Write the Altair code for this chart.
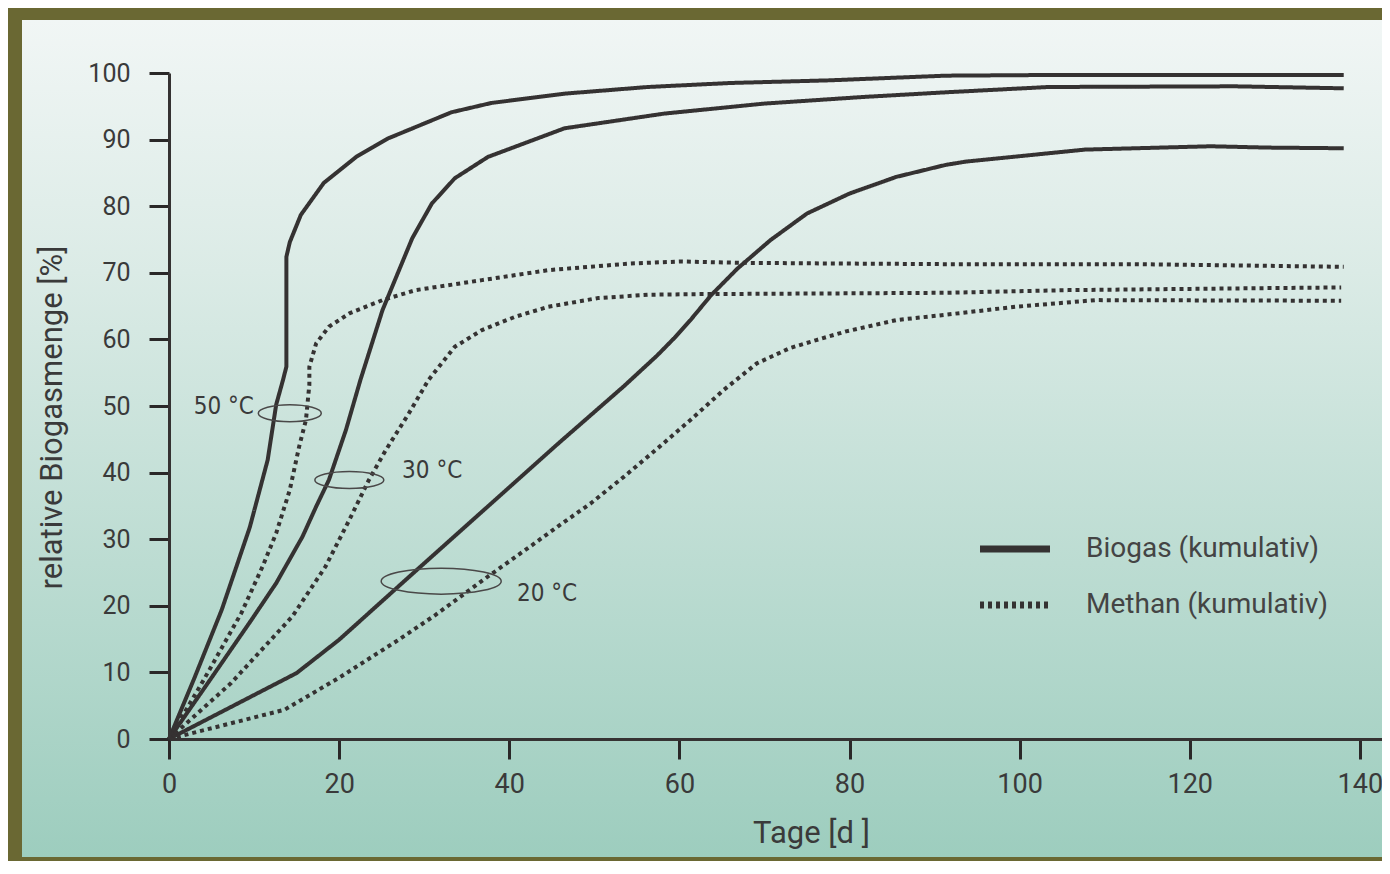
import altair as alt
import pandas as pd

# ---------------- data ----------------
b50_x = [0, 3.0, 6.2, 9.5, 11.6, 12.6, 13.4, 13.8, 13.8, 14.2, 15.5, 18.2, 22.0, 25.8, 33.2, 37.9, 46.5, 56.3, 66.0, 77.7, 91.3, 103.4, 138.1]
b50_y = [0, 9.2, 19.4, 31.8, 41.9, 50.2, 53.9, 55.9, 72.4, 74.6, 78.7, 83.5, 87.4, 90.2, 94.1, 95.5, 96.9, 97.9, 98.5, 98.9, 99.6, 99.7, 99.7]

b30_x = [0, 5.0, 9.7, 12.6, 15.7, 17.3, 18.8, 20.8, 22.5, 25.1, 28.6, 30.9, 33.6, 37.5, 46.5, 58.2, 69.9, 81.6, 91.3, 103.4, 125.3, 138.1]
b30_y = [0, 9.2, 17.9, 23.4, 30.4, 34.9, 38.9, 46.4, 53.9, 64.4, 75.2, 80.4, 84.2, 87.4, 91.7, 93.9, 95.4, 96.4, 97.1, 97.9, 98.0, 97.7]

b20_x = [0, 15.0, 20.0, 27.4, 45.7, 49.2, 53.5, 57.4, 59.4, 61.3, 63.7, 66.8, 70.7, 75.0, 80.0, 85.5, 91.3, 93.7, 107.7, 122.5, 129.1, 138.1]
b20_y = [0, 9.9, 14.9, 23.4, 44.3, 48.2, 53.0, 57.6, 60.2, 62.9, 66.6, 70.6, 74.9, 78.9, 81.9, 84.4, 86.2, 86.7, 88.5, 89.0, 88.8, 88.7]

m50_x = [0, 4.0, 8.5, 11.0, 12.6, 14.2, 15.3, 16.1, 16.5, 16.5, 17.3, 18.8, 21.2, 25.1, 29.0, 36.8, 44.6, 54.3, 60.2, 67.2, 77.7, 91.3, 113.6, 138.1]
m50_y = [0, 8.7, 18.9, 25.9, 30.9, 37.4, 43.9, 47.9, 53.2, 55.9, 59.4, 61.9, 63.9, 65.9, 67.4, 68.9, 70.4, 71.4, 71.7, 71.5, 71.4, 71.3, 71.3, 70.9]

m30_x = [0, 7.3, 14.5, 18.4, 21.2, 23.5, 25.5, 28.2, 30.5, 33.6, 36.8, 40.7, 44.6, 50.4, 56.3, 62.1, 77.7, 91.3, 105.7, 129.1, 137.8]
m30_y = [0, 8.4, 18.4, 25.9, 32.9, 38.9, 43.4, 48.9, 53.9, 58.9, 61.4, 63.4, 64.9, 66.2, 66.7, 66.8, 66.9, 67.0, 67.4, 67.7, 67.8]

m20_x = [0, 13.6, 20.0, 27.0, 31.3, 37.5, 43.0, 45.7, 49.6, 53.5, 57.4, 61.3, 65.2, 69.1, 73.0, 76.1, 79.6, 85.5, 91.3, 99.5, 108.9, 137.8]
m20_y = [0, 4.4, 9.2, 14.9, 18.6, 24.4, 29.4, 31.9, 35.4, 39.4, 43.6, 47.9, 52.4, 56.4, 58.7, 59.9, 61.2, 62.9, 63.7, 64.9, 65.9, 65.8]

series_types = ["Biogas (kumulativ)", "Methan (kumulativ)"]

# temperature annotations (ellipse centres and label anchors, in data units)
temp_labels = ["50 °C", "30 °C", "20 °C"]
ell_x = [14.2, 21.2, 32.0]
ell_y = [48.9, 38.9, 23.7]
lab_x = [2.9, 27.4, 40.9]
lab_y = [49.9, 40.2, 21.7]

x_ticks = [0, 20, 40, 60, 80, 100, 120, 140]
y_ticks = [0, 10, 20, 30, 40, 50, 60, 70, 80, 90, 100]

# ---------------- styles ----------------
W, H = 1213, 666
INK = "#353232"
TXT = "#3a3a3a"
ELL_W = [63, 69, 120]   # ellipse widths in px
ELL_H = [17, 17, 26]    # ellipse heights in px

rows = []
for temp, typ, xs, ys in [
    ("50", series_types[0], b50_x, b50_y),
    ("30", series_types[0], b30_x, b30_y),
    ("20", series_types[0], b20_x, b20_y),
    ("50", series_types[1], m50_x, m50_y),
    ("30", series_types[1], m30_x, m30_y),
    ("20", series_types[1], m20_x, m20_y),
]:
    for i, (x, y) in enumerate(zip(xs, ys)):
        rows.append({"Tage": x, "Wert": y, "Temp": temp, "Typ": typ, "ord": i})
df = pd.DataFrame(rows)


def ell_path(r):
    k = 0.5523
    return (f"M -1 0 C -1 {-k*r:.4f} {-k:.4f} {-r:.4f} 0 {-r:.4f} "
            f"C {k:.4f} {-r:.4f} 1 {-k*r:.4f} 1 0 "
            f"C 1 {k*r:.4f} {k:.4f} {r:.4f} 0 {r:.4f} "
            f"C {-k:.4f} {r:.4f} -1 {k*r:.4f} -1 0 Z")


ell_df = pd.DataFrame({
    "x": ell_x, "y": ell_y,
    "path": [ell_path(h / w) for w, h in zip(ELL_W, ELL_H)],
    "size": [w * w for w in ELL_W],
})
lab_df = pd.DataFrame({"x": lab_x, "y": lab_y, "t": temp_labels})

xscale = alt.Scale(domain=[0, 142.6], nice=False, zero=False)
yscale = alt.Scale(domain=[0, 100], nice=False)

x_axis = alt.Axis(values=x_ticks, title="Tage [d ]", grid=False, zindex=1,
                  domainColor=INK, domainWidth=3, tickColor="#2a2828", tickWidth=3, tickSize=20,
                  labelFont="Roboto", labelFontSize=27, labelColor=TXT, labelPadding=12,
                  labelFlush=False,
                  titleFont="Roboto", titleFontSize=31, titleFontWeight="normal", titleColor=TXT,
                  titleX=642, titleY=103, titleAlign="center", titleBaseline="alphabetic")
y_axis = alt.Axis(values=y_ticks, title="relative Biogasmenge [%]", grid=False, zindex=1,
                  domainColor=INK, domainWidth=3, tickColor="#2a2828", tickWidth=3, tickSize=20,
                  labelFont="Roboto", labelFontSize=25, labelColor=TXT, labelPadding=19,
                  labelFlush=False,
                  titleFont="Roboto", titleFontSize=31, titleFontWeight="normal", titleColor=TXT,
                  titleAngle=270, titleX=-117, titleY=344, titleAlign="center", titleBaseline="middle")

grad = alt.Gradient(gradient="linear",
                    stops=[alt.GradientStop(color="#f1f6f5", offset=0),
                           alt.GradientStop(color="#dbebe6", offset=0.3),
                           alt.GradientStop(color="#9dcdbe", offset=1)],
                    x1=0, x2=0, y1=0, y2=1)

bg = alt.Chart(pd.DataFrame({"a": [0]})).mark_rect(color=grad).encode(
    x=alt.value(-147), x2=alt.value(W + 60), y=alt.value(-53), y2=alt.value(784))

lines = alt.Chart(df).mark_line(color=INK, strokeWidth=4, strokeCap="butt", strokeJoin="round").encode(
    x=alt.X("Tage:Q", scale=xscale, axis=x_axis),
    y=alt.Y("Wert:Q", scale=yscale, axis=y_axis),
    detail="Temp:N",
    order="ord:Q",
    strokeDash=alt.StrokeDash(
        "Typ:N",
        scale=alt.Scale(domain=series_types, range=[[1, 0], [4, 4]]),
        legend=alt.Legend(title=None, orient="none", legendX=832, legendY=462,
                          symbolType="M -3.5 0 H 3.5", symbolSize=400, symbolStrokeWidth=7,
                          symbolStrokeColor=INK, symbolFillColor="transparent",
                          labelFont="Roboto", labelFontSize=28, labelColor="#444444",
                          labelLimit=600, labelOffset=57, rowPadding=28, padding=0),
    ),
)

ells = alt.Chart(ell_df).mark_point(filled=False, color="#4a4848", strokeWidth=1.5, opacity=1).encode(
    x=alt.X("x:Q", scale=xscale),
    y=alt.Y("y:Q", scale=yscale),
    shape=alt.Shape("path:N", scale=None),
    size=alt.Size("size:Q", scale=None),
)

labs = alt.Chart(lab_df).mark_text(font="DejaVu Sans Condensed, Roboto, sans-serif", fontSize=24, color=TXT,
                                   align="left", baseline="middle").encode(
    x=alt.X("x:Q", scale=xscale),
    y=alt.Y("y:Q", scale=yscale),
    text="t:N",
)

chart = alt.layer(bg, lines, ells, labs).properties(
    width=W, height=H,
    autosize=alt.AutoSizeParams(type="none"),
    padding={"left": 161, "top": 65, "right": 0, "bottom": 122},
).configure(background="#6a6833").configure_view(strokeWidth=0)

chart.save("out.html", embed_options={"renderer": "svg", "actions": False})
